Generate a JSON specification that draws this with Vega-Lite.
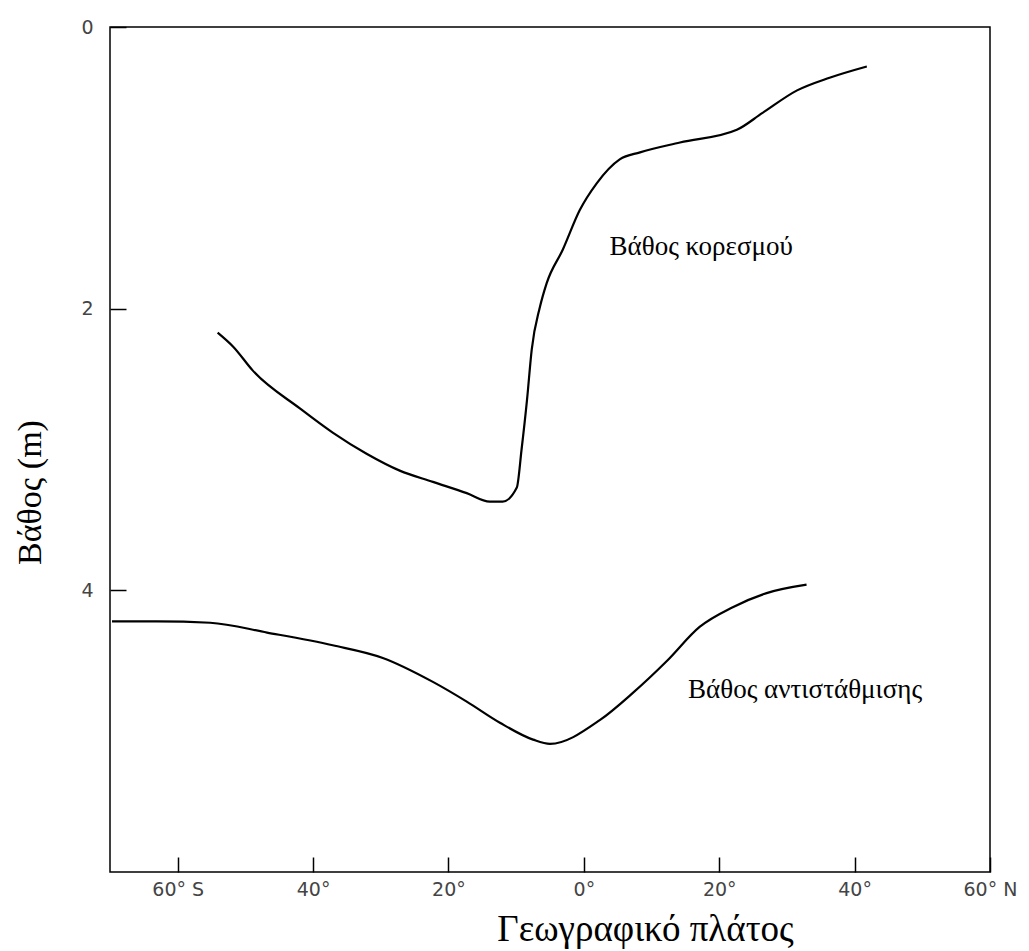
{
  "$schema": "https://vega.github.io/schema/vega-lite/v6.json",
  "autosize": "none",
  "padding": {"left": 110, "top": 27, "right": 39, "bottom": 79},
  "width": 880,
  "height": 845,
  "background": "white",
  "config": {
    "view": {"stroke": "black", "strokeWidth": 1.5},
    "axis": {
      "domain": false,
      "grid": false,
      "labelFont": "DejaVu Sans",
      "labelFontSize": 19,
      "labelColor": "#444",
      "titleFont": "Liberation Serif",
      "titleFontSize": 37,
      "titleFontWeight": "normal",
      "titleColor": "black",
      "tickColor": "black",
      "tickWidth": 1.5
    }
  },
  "datasets": {
    "curves": [
      {"curve": "sat", "lat": -54.1, "depth": 2.17},
      {"curve": "sat", "lat": -51.8, "depth": 2.27},
      {"curve": "sat", "lat": -48.9, "depth": 2.44},
      {"curve": "sat", "lat": -41.9, "depth": 2.71},
      {"curve": "sat", "lat": -37.1, "depth": 2.88},
      {"curve": "sat", "lat": -32.1, "depth": 3.03},
      {"curve": "sat", "lat": -27.2, "depth": 3.15},
      {"curve": "sat", "lat": -22.3, "depth": 3.23},
      {"curve": "sat", "lat": -17.3, "depth": 3.31},
      {"curve": "sat", "lat": -13.9, "depth": 3.37},
      {"curve": "sat", "lat": -12.0, "depth": 3.37},
      {"curve": "sat", "lat": -9.9, "depth": 3.27},
      {"curve": "sat", "lat": -9.2, "depth": 3.0},
      {"curve": "sat", "lat": -8.4, "depth": 2.65},
      {"curve": "sat", "lat": -7.7, "depth": 2.29},
      {"curve": "sat", "lat": -6.5, "depth": 1.99},
      {"curve": "sat", "lat": -5.5, "depth": 1.82},
      {"curve": "sat", "lat": -3.1, "depth": 1.58},
      {"curve": "sat", "lat": -0.6, "depth": 1.3},
      {"curve": "sat", "lat": 1.9, "depth": 1.11},
      {"curve": "sat", "lat": 5.3, "depth": 0.94},
      {"curve": "sat", "lat": 8.3, "depth": 0.89},
      {"curve": "sat", "lat": 14.2, "depth": 0.82},
      {"curve": "sat", "lat": 22.6, "depth": 0.73},
      {"curve": "sat", "lat": 26.4, "depth": 0.61},
      {"curve": "sat", "lat": 31.5, "depth": 0.45},
      {"curve": "sat", "lat": 36.3, "depth": 0.36},
      {"curve": "sat", "lat": 41.8, "depth": 0.28},
      {"curve": "comp", "lat": -69.7, "depth": 4.22},
      {"curve": "comp", "lat": -63.1, "depth": 4.22},
      {"curve": "comp", "lat": -55.2, "depth": 4.23},
      {"curve": "comp", "lat": -46.8, "depth": 4.3},
      {"curve": "comp", "lat": -37.1, "depth": 4.39},
      {"curve": "comp", "lat": -29.7, "depth": 4.48},
      {"curve": "comp", "lat": -22.3, "depth": 4.65},
      {"curve": "comp", "lat": -17.3, "depth": 4.79},
      {"curve": "comp", "lat": -12.4, "depth": 4.94},
      {"curve": "comp", "lat": -7.5, "depth": 5.06},
      {"curve": "comp", "lat": -5.0, "depth": 5.09},
      {"curve": "comp", "lat": 2.4, "depth": 4.92},
      {"curve": "comp", "lat": 7.2, "depth": 4.73},
      {"curve": "comp", "lat": 12.3, "depth": 4.5},
      {"curve": "comp", "lat": 17.1, "depth": 4.26},
      {"curve": "comp", "lat": 22.0, "depth": 4.12},
      {"curve": "comp", "lat": 27.0, "depth": 4.02},
      {"curve": "comp", "lat": 32.9, "depth": 3.96}
    ],
    "labels": [
      {"lat": 3.8, "depth": 1.56, "text": "Βάθος κορεσμού"},
      {"lat": 15.4, "depth": 4.71, "text": "Βάθος αντιστάθμισης"}
    ]
  },
  "layer": [
    {
      "data": {"name": "curves"},
      "mark": {"type": "line", "interpolate": "monotone", "color": "black", "strokeWidth": 2.2},
      "encoding": {
        "x": {
          "field": "lat", "type": "quantitative",
          "scale": {"domain": [-70, 60], "nice": false, "zero": false},
          "axis": {
            "title": "Γεωγραφικό πλάτος",
            "values": [-60, -40, -20, 0, 20, 40, 60],
            "labelExpr": "datum.value == -60 ? '60° S' : datum.value == 60 ? '60° N' : abs(datum.value) + '°'",
            "tickSize": -15,
            "labelPadding": 23,
            "labelFlush": false,
            "titleX": 535,
            "titleY": 68,
            "titleBaseline": "alphabetic",
            "titleAnchor": "middle",
            "titleAlign": "center"
          }
        },
        "y": {
          "field": "depth", "type": "quantitative",
          "scale": {"domain": [0, 6], "reverse": true, "nice": false, "zero": false},
          "axis": {
            "title": "Βάθος (m)",
            "titleFontSize": 34,
            "values": [0, 2, 4],
            "format": "d",
            "tickSize": -16,
            "labelPadding": 33,
            "labelFlush": false,
            "labelAngle": 0,
            "titleX": -80,
            "titleY": 465,
            "titleBaseline": "middle",
            "titleAlign": "center"
          }
        },
        "detail": {"field": "curve"}
      }
    },
    {
      "data": {"name": "labels"},
      "mark": {"type": "text", "align": "left", "baseline": "middle", "font": "Liberation Serif", "fontSize": 27, "color": "black"},
      "encoding": {
        "x": {"field": "lat", "type": "quantitative"},
        "y": {"field": "depth", "type": "quantitative"},
        "text": {"field": "text"}
      }
    }
  ]
}
